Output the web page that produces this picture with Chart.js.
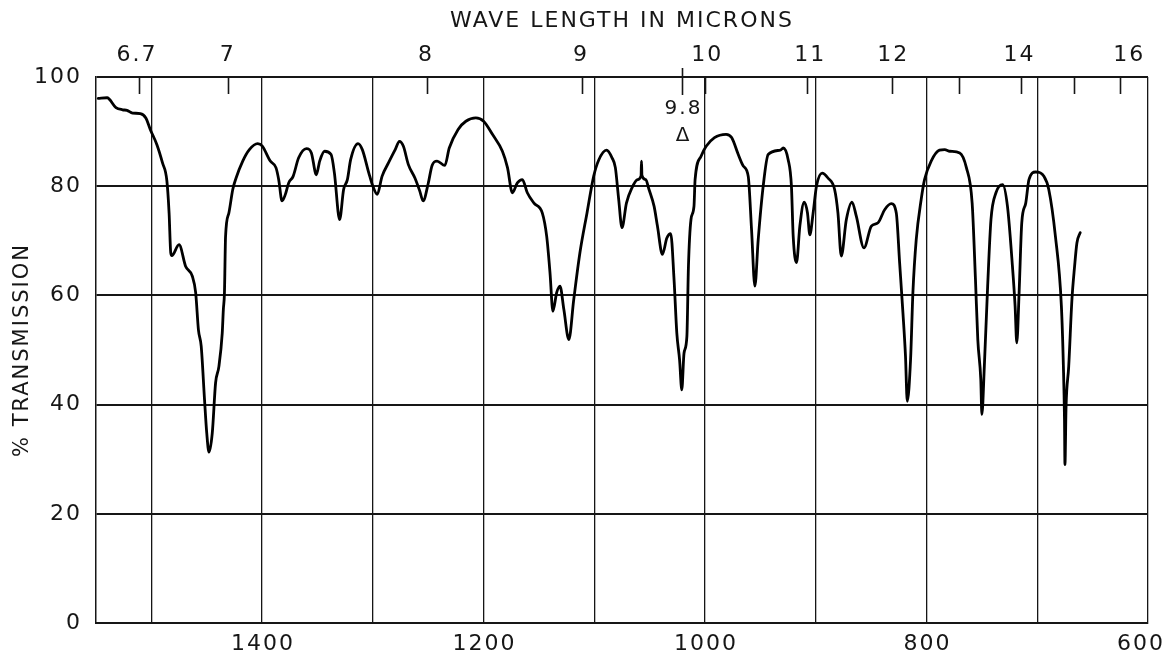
<!DOCTYPE html>
<html>
<head>
<meta charset="utf-8">
<title>IR transmission spectrum</title>
<script src="https://cdn.jsdelivr.net/npm/chart.js@4.4.1/dist/chart.umd.min.js"></script>
<style>
  html, body { margin: 0; padding: 0; background: #fff; }
  canvas { display: block; }
</style>
</head>
<body>
<canvas id="spectrum" width="1166" height="653"></canvas>
<script>
/* IR transmission spectrum, 1550-600 cm-1 */

const wavenumber = [
  1548, 1540, 1532, 1526, 1522, 1517, 1510, 1505, 1501, 1495, 1490, 1486, 1484, 1482.5, 1481.5,
  1475, 1469, 1463, 1460, 1457.5, 1455, 1452, 1450, 1448, 1445, 1442, 1439, 1436, 1435, 1434,
  1433, 1430, 1426.5, 1423.5, 1417.5, 1411.5, 1404, 1400, 1392.6, 1387.5, 1385, 1382, 1379, 1376,
  1372, 1367, 1360, 1355.5, 1351, 1348, 1343.6, 1337.7, 1334.7, 1330, 1326.4, 1323, 1320, 1313.4,
  1309.5, 1303.6, 1300, 1296, 1291.7, 1285.8, 1279.8, 1276, 1272.4, 1268, 1262, 1257.6, 1254.6,
  1250, 1246.5, 1242, 1235, 1231, 1223, 1216, 1207, 1200, 1192, 1183, 1178.4, 1174, 1169.5, 1165,
  1160.5, 1154.5, 1147, 1143, 1140, 1137.4, 1134, 1131, 1127.5, 1123, 1118.6, 1113, 1106.6, 1100.6,
  1096, 1089, 1084, 1081, 1078, 1075, 1071, 1066, 1061, 1057.8, 1057.4, 1057, 1053.6, 1050.6, 1046,
  1043, 1038.5, 1034.5, 1031, 1028, 1025.5, 1023, 1021, 1019, 1016.4, 1015, 1012.7, 1010, 1009,
  1003.6, 999, 991.5, 981, 976, 970, 965.5, 961, 958, 955, 952, 947.5, 943, 932, 929.4, 925, 922,
  920.4, 917.4, 914.4, 910.5, 907.5, 905.4, 902.4, 899.4, 894.3, 889, 883, 880, 877, 872.4, 867.3,
  863.4, 856.5, 849.8, 843.8, 837.8, 831.8, 827.3, 824.3, 821.3, 819, 817.4, 814.4, 812.3, 809.3,
  804.8, 801.8, 795.8, 788.3, 783.6, 779, 770, 764, 758.8, 755.8, 753.7, 751, 750, 747.8, 744.8,
  741.8, 737.3, 731.3, 726.9, 722.4, 720, 718.5, 716.4, 714, 710.4, 707.5, 701.5, 694, 689.6,
  683.6, 678.2, 676.4, 675.4, 675, 674, 671.6, 668.7, 666.3, 664.2, 661.2
];
const transmission = [
  96.1, 96.2, 94.4, 94.0, 93.9, 93.4, 93.3, 92.5, 90.4, 87.6, 84.3, 81.0, 75.1, 67.8, 67.3,
  69.3, 65.3, 63.5, 60.5, 53.7, 50.7, 40.9, 34.8, 31.3, 34.8, 44.0, 47.0, 53.1, 57.4, 60.5,
  70.8, 75.1, 79.4, 81.5, 84.6, 86.7, 87.8, 87.4, 84.6, 83.4, 81.2, 77.3, 78.5, 80.6,
  81.8, 85.2, 86.9, 86.1, 82.1, 84.6, 86.4, 85.8, 82.4, 73.9, 79.4, 81.2, 84.9, 87.8,
  86.7, 82.4, 80.0, 78.5, 81.8, 84.3, 86.7, 88.2, 87.3, 84.0, 81.5, 79.1, 77.3,
  80.5, 83.8, 84.6, 83.8, 87.0, 90.4, 91.9, 92.5, 91.9, 89.5, 86.4, 83.4, 78.8, 80.6, 81.2,
  78.8, 76.9, 75.1, 70.8, 64.1, 57.1, 60.5, 61.7, 57.4, 51.9, 59.2, 67.8, 75.1, 81.8,
  84.8, 86.6, 85.2, 83.4, 77.6, 72.4, 76.9, 79.7, 81.2, 81.9, 84.6, 82.0, 81.2, 79.4, 76.3,
  72.7, 67.5, 70.5, 71.3, 62.9, 53.1, 48.2, 42.7, 49.4, 52.5, 65.3, 73.9, 76.3, 81.2,
  85.5, 87.3, 88.9, 89.5, 88.9, 85.8, 83.7, 81.8, 72.0, 61.7, 70.2, 80.0, 85.8, 86.6, 87.0, 84.9, 80.0,
  70.8, 66.0, 72.7, 77.1, 75.1, 71.1, 75.1, 80.0, 82.4, 81.5, 79.4, 75.1, 67.2, 73.9, 77.1,
  74.5, 68.7, 72.7, 73.3, 75.7, 76.8, 75.1, 66.0, 56.8, 48.9, 40.6, 48.3, 60.5, 70.2,
  77.6, 81.2, 84.6, 86.6, 86.7, 86.4, 86.1, 83.4, 76.9, 62.9, 51.9, 44.6, 38.2, 47.0, 61.7,
  73.9, 78.8, 80.3, 76.3, 65.3, 58.0, 51.3, 60.5, 73.3, 76.9, 81.2, 82.6, 81.8, 79.4,
  70.8, 58.0, 47.0, 37.2, 29.0, 39.6, 47.0, 59.2, 65.3, 69.6, 71.5
];

// axis ticks (wavenumber, cm-1) and wavelength scale along the top (microns)
const gridValues     = [1500, 1400, 1300, 1200, 1100, 1000, 900, 800, 700, 600];
const bottomTicks    = [1400, 1200, 1000, 800, 600];
const yTicks         = [0, 20, 40, 60, 80, 100];
const micronTickPos  = [1511, 1430.5, 1251, 1111, 1000, 908, 831, 771, 715, 667, 625];
const micronLabelPos = [1513, 1431, 1252, 1112, 998, 905, 830, 716, 617];
const micronLabels   = ['6.7', '7', '8', '9', '10', '11', '12', '14', '16'];
const markerPos      = 1021;
const markerLabel    = '9.8';

const INK  = '#161616';
const FONT = "'DejaVu Sans', sans-serif";

const decor = {
  id: 'decor',
  beforeDraw(chart) {
    // hand lettering on the original is widely spaced
    chart.ctx.letterSpacing = '2px';
  },
  afterDraw(chart) {
    const { ctx, chartArea: a, scales: { x } } = chart;
    ctx.save();
    ctx.strokeStyle = INK;
    ctx.lineWidth = 1.6;

    // short ticks hanging into the plot from the top edge
    ctx.beginPath();
    micronTickPos.forEach(v => {
      const px = Math.round(x.getPixelForValue(v)) + 0.5;
      ctx.moveTo(px, a.top);
      ctx.lineTo(px, a.top + 17);
    });
    const mx = Math.round(x.getPixelForValue(markerPos)) + 0.5;
    ctx.moveTo(mx, a.top - 9);
    ctx.lineTo(mx, a.top + 18);
    ctx.stroke();

    ctx.fillStyle = INK;
    ctx.textAlign = 'center';
    ctx.textBaseline = 'middle';
    ctx.font = `20px ${FONT}`;
    ctx.fillText(markerLabel, mx + 1, a.top + 32);
    ctx.fillText('\u0394', mx + 1, a.top + 59);

    // wavenumber labels below the plot (last one kept inside the canvas)
    ctx.font = `22px ${FONT}`;
    bottomTicks.forEach(v => {
      const s = String(v);
      const w = ctx.measureText(s).width;
      const px = Math.min(x.getPixelForValue(v) + 1, chart.width - w / 2 - 1);
      ctx.fillText(s, px, a.bottom + 21);
    });
    ctx.restore();
  }
};

new Chart(document.getElementById('spectrum'), {
  type: 'line',
  data: {
    datasets: [{
      data: wavenumber.map((w, i) => ({ x: w, y: transmission[i] })),
      borderColor: '#000',
      borderWidth: 2.8,
      borderJoinStyle: 'round',
      borderCapStyle: 'round',
      pointRadius: 0,
      cubicInterpolationMode: 'monotone',
      fill: false,
    }]
  },
  options: {
    responsive: false,
    animation: false,
    layout: { autoPadding: false, padding: { left: 0, right: 18, top: 0, bottom: 0 } },
    plugins: { legend: { display: false }, tooltip: { enabled: false } },
    scales: {
      x: {
        type: 'linear', min: 600, max: 1550, reverse: true,
        afterBuildTicks: s => { s.ticks = gridValues.map(v => ({ value: v })); },
        afterFit: s => { s.height = 30; },
        grid: { color: INK, lineWidth: 1.3, drawTicks: false },
        border: { display: true, color: INK, width: 2 },
        ticks: { display: false }
      },
      x2: {
        type: 'linear', position: 'top', min: 600, max: 1550, reverse: true,
        afterBuildTicks: s => { s.ticks = micronLabelPos.map(v => ({ value: v })); },
        afterFit: s => { s.height = 77; },
        grid: { drawOnChartArea: false, drawTicks: false },
        border: { display: false },
        ticks: {
          autoSkip: false, maxRotation: 0, padding: 9, color: INK,
          font: { family: FONT, size: 22 },
          callback: (v, i) => micronLabels[i]
        },
        title: {
          display: true, text: 'WAVE LENGTH IN MICRONS', color: INK,
          font: { family: FONT, size: 22 }, padding: { top: 8, bottom: 0 }
        }
      },
      y: {
        min: 0, max: 100,
        afterBuildTicks: s => { s.ticks = yTicks.map(v => ({ value: v })); },
        afterFit: s => { s.width = 96; },
        grid: { color: INK, lineWidth: 2, drawTicks: false },
        border: { display: true, color: INK, width: 1.5 },
        ticks: { padding: 14, color: INK, font: { family: FONT, size: 22 } },
        title: {
          display: true, text: '% TRANSMISSION', color: INK,
          font: { family: FONT, size: 21 }, padding: { top: 10, bottom: 0 }
        }
      }
    }
  },
  plugins: [decor]
});
</script>
</body>
</html>
